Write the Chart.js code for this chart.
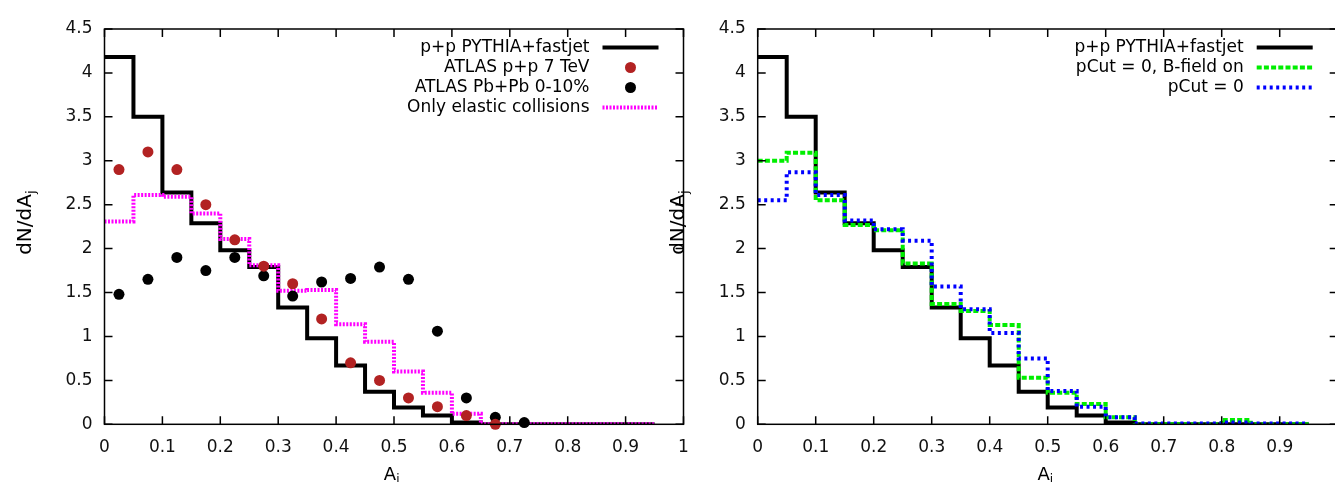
<!DOCTYPE html>
<html>
<head>
<meta charset="utf-8">
<script src="https://cdn.jsdelivr.net/npm/chart.js@4.4.0/dist/chart.umd.min.js"></script>
<style>
    html, body { margin: 0; padding: 0; background: #fff; overflow: hidden; width: 1335px; height: 482px; }
    canvas { position: absolute; top: 0; }
    #left-chart { left: 0; }
    #right-chart { left: 655px; }
</style>
</head>
<body>
<canvas id="left-chart" width="730" height="482"></canvas>
<canvas id="right-chart" width="730" height="482"></canvas>
<script>
// bin edges of the A_j histograms (width 0.05)
const binEdges = [0, 0.05, 0.1, 0.15, 0.2, 0.25, 0.3, 0.35, 0.4, 0.45, 0.5,
    0.55, 0.6, 0.65, 0.7, 0.75, 0.8, 0.85, 0.9, 0.95];

// one value per bin
const pythia = [4.18, 3.50, 2.64, 2.29, 1.98, 1.79, 1.33, 0.98, 0.67, 0.37,
    0.19, 0.10, 0.02, 0, 0, 0, 0, 0, 0];
const elastic = [2.31, 2.61, 2.59, 2.40, 2.11, 1.81, 1.52, 1.53, 1.14, 0.94,
    0.60, 0.36, 0.12, 0, 0, 0, 0, 0, 0];
const pcutBfield = [3.00, 3.09, 2.55, 2.27, 2.21, 1.83, 1.37, 1.29, 1.13, 0.53,
    0.36, 0.23, 0.08, 0, 0, 0, 0.05, 0, 0];
const pcutZero = [2.55, 2.87, 2.61, 2.32, 2.22, 2.09, 1.57, 1.31, 1.04, 0.75,
    0.38, 0.20, 0.08, 0.01, 0.01, 0.01, 0.02, 0.01, 0.01];

// ATLAS data points
const atlasPpX = [0.025, 0.075, 0.125, 0.175, 0.225, 0.275, 0.325, 0.375, 0.425,
    0.475, 0.525, 0.575, 0.625, 0.675];
const atlasPpY = [2.9, 3.1, 2.9, 2.5, 2.1, 1.8, 1.6, 1.2, 0.7, 0.5, 0.3, 0.2, 0.1, 0.0];
const atlasPbX = [0.025, 0.075, 0.125, 0.175, 0.225, 0.275, 0.325, 0.375, 0.425,
    0.475, 0.525, 0.575, 0.625, 0.675, 0.725];
const atlasPbY = [1.48, 1.65, 1.90, 1.75, 1.90, 1.69, 1.46, 1.62, 1.66, 1.79,
    1.65, 1.06, 0.30, 0.08, 0.02];

const FONT = "'DejaVu Sans', sans-serif";

function histPoints(vals) {
    return binEdges.map((x, i) => ({ x, y: vals[Math.min(i, vals.length - 1)] }));
}

function histSet(label, vals, color, dash, order) {
    return {
        label, data: histPoints(vals), borderColor: color, backgroundColor: color,
        borderWidth: 4, borderDash: dash, stepped: true, pointRadius: 0,
        borderCapStyle: "butt", borderJoinStyle: "miter", fill: false, order,
    };
}

function pointSet(label, xs, ys, color, order) {
    return {
        label, data: xs.map((x, i) => ({ x, y: ys[i] })), showLine: false,
        pointRadius: 5.5, pointBorderWidth: 0, backgroundColor: color,
        borderColor: color, clip: 8, order,
    };
}

// gnuplot style box with inward ticks on all sides
const framePlugin = {
    id: "frame",
    afterDatasetsDraw(chart) {
        const { ctx, chartArea: a, scales } = chart;
        ctx.save();
        ctx.strokeStyle = "#000";
        ctx.lineWidth = 1.5;
        ctx.strokeRect(a.left, a.top, a.right - a.left, a.bottom - a.top);
        ctx.beginPath();
        scales.x.ticks.forEach(t => {
            const px = scales.x.getPixelForValue(t.value);
            ctx.moveTo(px, a.bottom); ctx.lineTo(px, a.bottom - 8);
            ctx.moveTo(px, a.top); ctx.lineTo(px, a.top + 8);
        });
        scales.y.ticks.forEach(t => {
            const py = scales.y.getPixelForValue(t.value);
            ctx.moveTo(a.left, py); ctx.lineTo(a.left + 8, py);
            ctx.moveTo(a.right, py); ctx.lineTo(a.right - 8, py);
        });
        ctx.stroke();
        ctx.restore();
    },
};

// right-aligned legend at top right, plus axis titles with subscripts
const legendPlugin = {
    id: "gpLegend",
    afterDraw(chart) {
        const { ctx, chartArea: a } = chart;
        ctx.save();
        ctx.font = "17px " + FONT;
        ctx.fillStyle = "#000";
        ctx.textAlign = "right";
        ctx.textBaseline = "middle";
        chart.data.datasets.forEach((ds, i) => {
            const y = a.top + 18.5 + i * 20;
            ctx.fillText(ds.label, a.right - 94, y);
            if (ds.showLine === false) {
                ctx.beginPath();
                ctx.fillStyle = ds.backgroundColor;
                ctx.arc(a.right - 53, y, 5.5, 0, Math.PI * 2);
                ctx.fill();
                ctx.fillStyle = "#000";
            } else {
                ctx.beginPath();
                ctx.strokeStyle = ds.borderColor;
                ctx.lineWidth = ds.borderWidth;
                ctx.setLineDash(ds.borderDash || []);
                ctx.moveTo(a.right - 81, y);
                ctx.lineTo(a.right - 25, y);
                ctx.stroke();
                ctx.setLineDash([]);
            }
        });

        // y title: dN/dA_j
        ctx.textAlign = "left";
        ctx.textBaseline = "alphabetic";
        ctx.save();
        ctx.translate(a.left - 74, (a.top + a.bottom) / 2 - 4);
        ctx.rotate(-Math.PI / 2);
        ctx.font = "20px " + FONT;
        const w = ctx.measureText("dN/dA").width;
        ctx.font = "13px " + FONT;
        const ws = ctx.measureText("j").width;
        const sx = -(w + ws) / 2;
        ctx.font = "20px " + FONT;
        ctx.fillText("dN/dA", sx, 0);
        ctx.font = "13px " + FONT;
        ctx.fillText("j", sx + w, 4);
        ctx.restore();

        // x title: A_j
        ctx.font = "18px " + FONT;
        const wa = ctx.measureText("A").width;
        const cx = (a.left + a.right) / 2 - 4;
        ctx.fillText("A", cx - wa / 2, 480);
        ctx.font = "12px " + FONT;
        ctx.fillText("j", cx + wa / 2, 483);
        ctx.restore();
    },
};

function makeOptions(yWidth, padRight, hideOne) {
    return {
        responsive: false,
        animation: false,
        devicePixelRatio: 1,
        layout: { padding: { left: 0, top: 29, right: padRight, bottom: 0 } },
        plugins: { legend: { display: false }, tooltip: { enabled: false } },
        scales: {
            x: {
                type: "linear", min: 0, max: 1,
                grid: { display: false, drawTicks: false },
                border: { display: false },
                ticks: {
                    stepSize: 0.1, autoSkip: false, maxRotation: 0, padding: 13.5,
                    color: "#111", font: { family: FONT, size: 17 },
                    callback: v => (hideOne && v > 0.95) ? "" : String(+v.toFixed(1)),
                },
                afterFit: s => { s.height = 57.7; },
            },
            y: {
                type: "linear", min: 0, max: 4.5,
                grid: { display: false, drawTicks: false },
                border: { display: false },
                ticks: {
                    stepSize: 0.5, padding: 12,
                    color: "#111", font: { family: FONT, size: 17 },
                    callback: v => String(+v.toFixed(1)),
                },
                afterFit: s => { s.width = yWidth; },
            },
        },
    };
}

new Chart(document.getElementById("left-chart"), {
    type: "line",
    data: {
        datasets: [
            histSet("p+p PYTHIA+fastjet", pythia, "#000", [], 4),
            pointSet("ATLAS p+p 7 TeV", atlasPpX, atlasPpY, "#b22222", 1),
            pointSet("ATLAS Pb+Pb 0-10%", atlasPbX, atlasPbY, "#000", 2),
            histSet("Only elastic collisions", elastic, "#ff00ff", [2, 1.5], 3),
        ],
    },
    options: makeOptions(104.5, 730 - 683.5, false),
    plugins: [framePlugin, legendPlugin],
});

new Chart(document.getElementById("right-chart"), {
    type: "line",
    data: {
        datasets: [
            histSet("p+p PYTHIA+fastjet", pythia, "#000", [], 3),
            histSet("pCut = 0, B-field on", pcutBfield, "#00ee00", [5, 2.2], 2),
            histSet("pCut = 0", pcutZero, "#0000ff", [3, 3.5], 1),
        ],
    },
    options: makeOptions(102.7, 730 - 682.7, true),
    plugins: [framePlugin, legendPlugin],
});
</script>
</body>
</html>
